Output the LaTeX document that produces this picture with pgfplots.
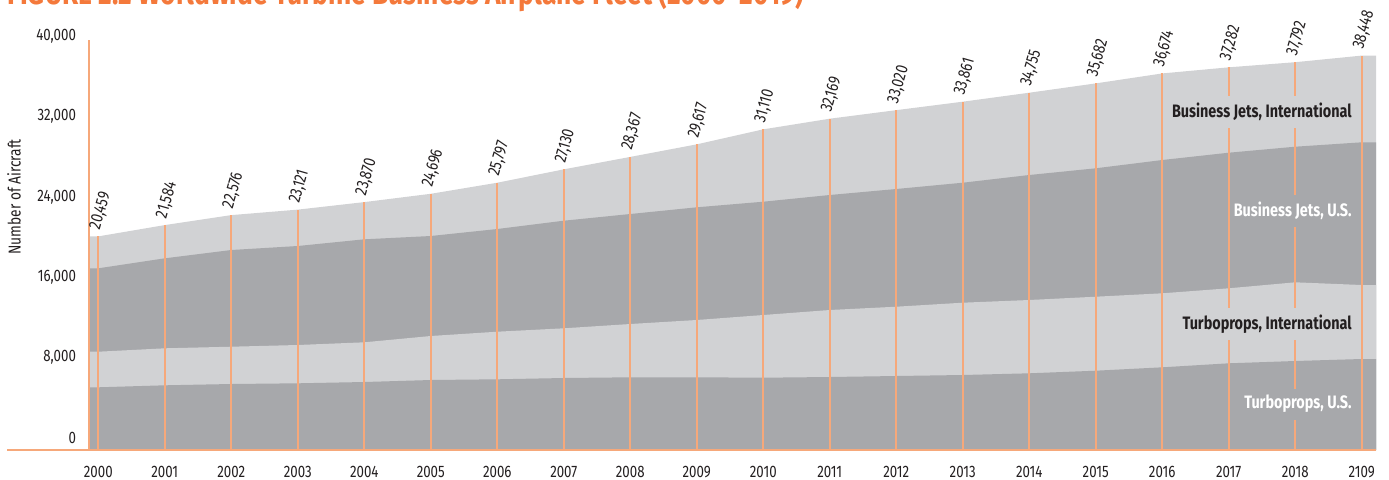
\documentclass[border=0pt]{standalone}
\usepackage{fontspec}
\setmainfont{Fira Sans}[FakeStretch=0.8]
\usepackage{pgfplots}
\usepackage{pgfplotstable}
\pgfplotsset{compat=1.18}
\definecolor{lightg}{RGB}{209,210,212}
\definecolor{darkg}{RGB}{167,168,171}
\definecolor{lineor}{RGB}{246,168,122}
\definecolor{titleor}{RGB}{244,121,59}
\definecolor{txt}{RGB}{35,31,32}
\pgfplotstableread{
x tpus tpint bjus total lab
-0.14 -800 -800 -800 -800 x
-0.14 5440 8982 17281 20459 x
0 5440 8982 17281 20459 20,459
1 5639 9321 18277 21584 21,584
2 5768 9480 19102 22576 22,576
3 5838 9649 19501 23121 23,121
4 5967 9918 20167 23870 23,870
5 6166 10545 20496 24696 24,696
6 6236 10973 21192 25797 25,797
7 6365 11311 22018 27130 27,130
8 6435 11739 22685 28367 28,367
9 6435 12137 23352 29617 29,617
10 6395 12634 23909 31110 31,110
11 6465 13132 24576 32169 32,169
12 6564 13460 25173 33020 33,020
13 6664 13859 25799 33861 33,861
14 6833 14127 26566 34755 34,755
15 7092 14455 27233 35682 35,682
16 7429 14794 28058 36674 36,674
17 7828 15291 28785 37282 37,282
18 8057 15888 29382 37792 37,792
19 8256 15620 29820 38448 38,448
19.215 8256 15620 29820 38448 x
19.215 -800 -800 -800 -800 x
}\data
\begin{document}
\begin{tikzpicture}
\useasboundingbox (0,0) rectangle (694.5pt,-239.5pt);
\clip (0,0) rectangle (694.5pt,-239.5pt);
\node[anchor=base west, text=titleor, font=\bfseries\fontsize{16.5}{18}\selectfont, inner sep=0pt] at (3.5pt,-2.0pt) {FIGURE 2.2 Worldwide Turbine Business Airplane Fleet (2000--2019)};
\begin{axis}[
  at={(44.5pt,-225pt)}, anchor=south west,
  scale only axis, width=643.5pt, height=205pt,
  xmin=-0.14, xmax=19.215, ymin=-800, ymax=40000,
  clip=false, scaled y ticks=false,
  axis line style={draw=none}, major tick length=0pt,
  xtick={0,1,2,3,4,5,6,7,8,9,10,11,12,13,14,15,16,17,18,19},
  xticklabels={2000,2001,2002,2003,2004,2005,2006,2007,2008,2009,2010,2011,2012,2013,2014,2015,2016,2017,2018,2109},
  ytick={0,8000,16000,24000,32000,40000},
  yticklabels={0,{8,000},{16,000},{24,000},{32,000},{40,000}},
  tick label style={font=\fontsize{8.3}{9}\selectfont, text=txt},
  xticklabel style={yshift=-4.5pt},
  yticklabel style={xshift=-3pt, yshift=2pt},
  ylabel={Number of Aircraft},
  ylabel style={at={(rel axis cs:-0.0583,0.617)}, anchor=center, font=\fontsize{8.6}{9}\selectfont, text=txt},
]
\addplot[draw=none, fill=lightg] table[x=x,y=total]{\data} -- cycle;
\addplot[draw=none, fill=darkg] table[x=x,y=bjus]{\data} -- cycle;
\addplot[draw=none, fill=lightg] table[x=x,y=tpint]{\data} -- cycle;
\addplot[draw=none, fill=darkg] table[x=x,y=tpus]{\data} -- cycle;
\addplot[lineor, line width=0.9pt, quiver={u=0, v=\thisrow{total}+800}, restrict x to domain=0:19] table[x=x, y expr=-800]{\data};
\node[anchor=east, fill=lightg, inner xsep=1.5pt, minimum height=15.5pt, text=txt, font=\bfseries\fontsize{9}{10}\selectfont] at (axis cs:18.9,32835) {Business Jets, International};
\node[anchor=east, fill=darkg, inner xsep=1.5pt, minimum height=15.5pt, text=white, font=\bfseries\fontsize{9}{10}\selectfont] at (axis cs:18.9,22984) {Business Jets, U.S.};
\node[anchor=east, fill=lightg, inner xsep=1.5pt, minimum height=15.5pt, text=txt, font=\bfseries\fontsize{9}{10}\selectfont] at (axis cs:18.9,11740) {Turboprops, International};
\node[anchor=east, fill=darkg, inner xsep=1.5pt, minimum height=15.5pt, text=white, font=\bfseries\fontsize{9}{10}\selectfont] at (axis cs:18.9,3778) {Turboprops, U.S.};
\draw[lineor, line width=1pt] (rel axis cs:-0.0637,0) -- (rel axis cs:1,0);
\draw[lineor, line width=0.75pt] (rel axis cs:0,0) -- (rel axis cs:0,1);
\addplot[draw=none, mark=none, restrict x to domain=0:19, nodes near coords, point meta=explicit symbolic,
  every node near coord/.append style={anchor=base west, inner sep=0pt, xshift=0.6pt, yshift=2.8pt, rotate=74, text=txt, font=\fontsize{8.5}{9}\selectfont}]
  table[x=x,y=total,meta=lab]{\data};
\end{axis}
\end{tikzpicture}
\end{document}
